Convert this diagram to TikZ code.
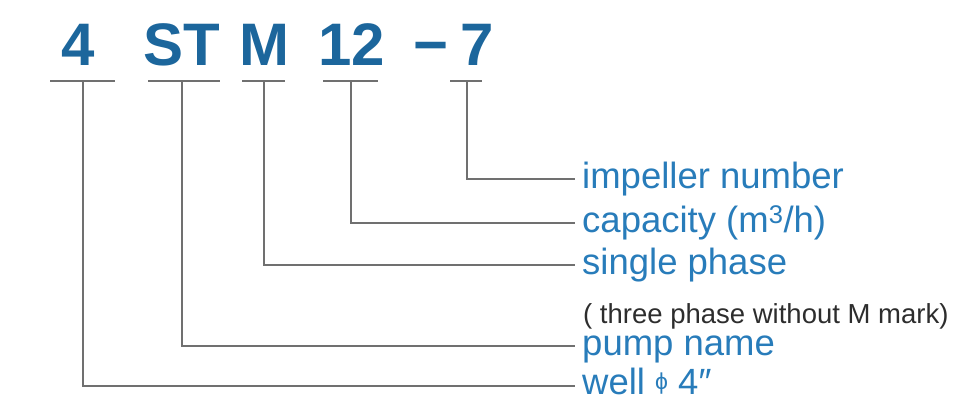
\documentclass[tikz,border=0pt]{standalone}
\usepackage{fontspec}
\setmainfont{Liberation Sans}
\definecolor{codeblue}{RGB}{28,102,156}
\definecolor{labblue}{RGB}{40,124,186}
\definecolor{linegray}{RGB}{112,112,112}
\definecolor{notegray}{RGB}{45,45,45}
\tikzset{
  code/.style={font=\fontsize{60}{60}\selectfont\bfseries, text=codeblue, inner sep=0pt, anchor=base},
  lab/.style={font=\fontsize{36.5}{40}\selectfont, text=labblue, inner xsep=7pt, inner ysep=0pt, anchor=base west},
  note/.style={font=\fontsize{27.5}{30}\selectfont, text=notegray, inner sep=0pt, anchor=base west},
  rule/.style={draw=linegray, line width=2pt},
  conn/.style={draw=linegray, line width=2pt, line join=miter}
}
\begin{document}
\begin{tikzpicture}[x=1pt,y=-1pt]
\useasboundingbox (0,0) rectangle (968,400);
% code characters
\node[code] (c4)  at (78,65)  {4};
\node[code] (cst) at (182,65) {ST};
\node[code] (cm)  at (264,65) {M};
\node[code] (c12) at (352,65) {12};
\node[code] (cd)  at (431,65) {−};
\node[code] (c7)  at (477,65) {7};
% underlines
\draw[rule] (50,81) -- (115,81);
\draw[rule] (148,81) -- (220,81);
\draw[rule] (242,81) -- (285,81);
\draw[rule] (323,81) -- (378,81);
\draw[rule] (450,81) -- (482,81);
\coordinate (u4)  at (83,81);
\coordinate (ust) at (182,81);
\coordinate (um)  at (264,81);
\coordinate (u12) at (351,81);
\coordinate (u7)  at (467,81);
% labels (baseline 9.5 below the connector line)
\node[lab] (l7)  at (575,188.5) {impeller number};
\node[lab] (l12) at (575,232.5) {capacity (m\textsuperscript{3}/h)};
\node[lab] (lm)  at (575,274.5) {single phase};
\node[note] (nm) at (583,323) {( three phase without M mark)};
\node[lab] (lst) at (575,355.5) {pump name};
\node[lab, text depth=0pt] (l4)  at (575,394) {well \raisebox{4.5pt}{\fontsize{23}{24}\selectfont ϕ} 4″};
% connectors
\draw[conn] (u7)  |- ([yshift=9.5pt]l7.base west);
\draw[conn] (u12) |- ([yshift=9.5pt]l12.base west);
\draw[conn] (um)  |- ([yshift=9.5pt]lm.base west);
\draw[conn] (ust) |- ([yshift=9.5pt]lst.base west);
\draw[conn] (u4)  |- ([yshift=8pt]l4.base west);
\end{tikzpicture}
\end{document}
